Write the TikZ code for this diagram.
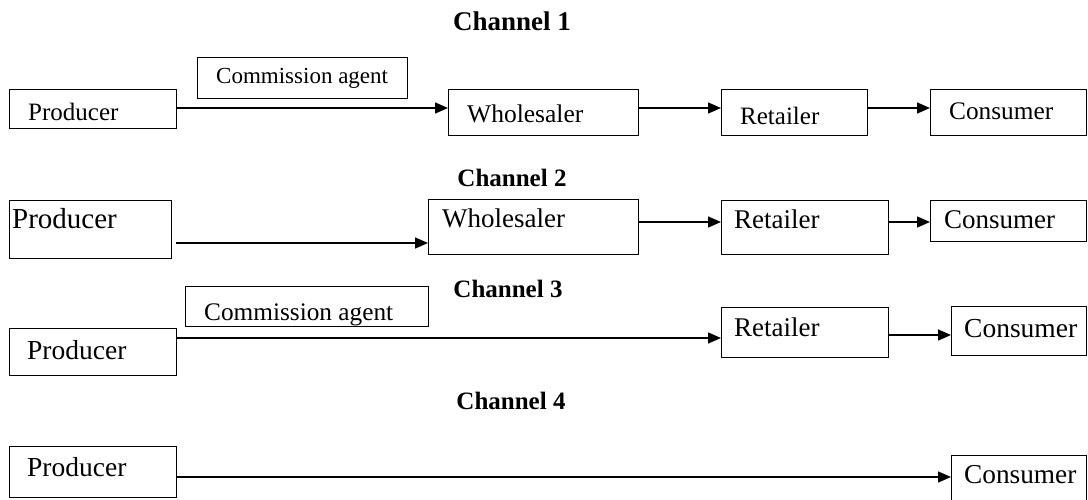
\documentclass[tikz,border=0pt]{standalone}
\usepackage{fontspec}
\setmainfont{Liberation Serif}
\usetikzlibrary{arrows.meta}
\tikzset{
  boxst/.style={draw, line width=1.3pt, inner sep=0pt, anchor=north west},
  txt/.style={anchor=base west, inner sep=0pt},
  ttl/.style={anchor=base, inner sep=0pt},
  arr/.style={line width=1.5pt, -{Triangle[length=13pt,width=11pt]}}
}
% name, x1, y1, x2, y2, text, tx, ty, size
\newcommand{\cbox}[9]{%
  \node[boxst, minimum width={#4pt-#2pt}, minimum height={#5pt-#3pt}] (#1) at (#2,#3) {};
  \node[txt, font=\fontsize{#9}{#9}\selectfont] (#1t) at (#7,#8) {#6};
}
\begin{document}
\begin{tikzpicture}[x=1pt,y=-1pt]
\clip (0,0) rectangle (1088,500);
\fill[white] (0,0) rectangle (1088,500);

% titles
\node[ttl, font=\fontsize{27}{27}\selectfont\bfseries] (t1) at (512,31) {Channel 1};
\node[ttl, font=\fontsize{25}{25}\selectfont\bfseries] (t2) at (512,186) {Channel 2};
\node[ttl, font=\fontsize{25}{25}\selectfont\bfseries] (t3) at (508,297) {Channel 3};
\node[ttl, font=\fontsize{25}{25}\selectfont\bfseries] (t4) at (511,409) {Channel 4};

% row 1
\cbox{p1}{9}{89}{176}{128}{Producer}{28}{121}{25}
\cbox{ca1}{197}{57}{407}{98}{Commission agent}{216}{84}{23}
\cbox{w1}{448}{89}{638}{135}{Wholesaler}{467}{123}{25.5}
\cbox{r1}{721}{89}{867}{135}{Retailer}{740}{125}{25}
\cbox{c1}{930}{89}{1086}{135}{Consumer}{949}{120}{25.3}
\coordinate (y1) at (0,108);
\draw[arr] (p1.east |- y1) -- (w1.west |- y1);
\draw[arr] (w1.east |- y1) -- (r1.west |- y1);
\draw[arr] (r1.east |- y1) -- (c1.west |- y1);

% row 2
\cbox{p2}{9}{200}{171}{258}{Producer}{12}{229}{29}
\cbox{w2}{428}{199}{638}{254}{Wholesaler}{442}{228}{27}
\cbox{r2}{721}{200}{888}{254}{Retailer}{734}{229}{27}
\cbox{c2}{930}{200}{1086}{241}{Consumer}{944}{229}{27}
\coordinate (y2a) at (0,243);
\coordinate (y2b) at (0,222);
\draw[arr] ([xshift=4pt]p2.east |- y2a) -- (w2.west |- y2a);
\draw[arr] (w2.east |- y2b) -- (r2.west |- y2b);
\draw[arr] (r2.east |- y2b) -- (c2.west |- y2b);

% row 3
\node[boxst, minimum width=243pt, minimum height=40pt] (ca3) at (185,286) {};
\begin{scope}
  \clip (185,286) rectangle (428,326);
  \node[txt, font=\fontsize{25.3}{25.3}\selectfont] (ca3t) at (204,320) {Commission agent};
\end{scope}
\cbox{p3}{9}{328}{176}{375}{Producer}{27}{359}{27.5}
\cbox{r3}{721}{307}{888}{357}{Retailer}{734}{336}{27}
\cbox{c3}{951}{306}{1086}{355}{Consumer}{964}{337}{27.5}
\coordinate (y3a) at (0,338);
\coordinate (y3b) at (0,335);
\draw[arr] (p3.east |- y3a) -- (r3.west |- y3a);
\draw[arr] (r3.east |- y3b) -- (c3.west |- y3b);

% row 4
\cbox{p4}{9}{446}{176}{497}{Producer}{27}{476}{27.5}
\cbox{c4}{951}{455}{1086}{515}{Consumer}{964}{483}{27.3}
\coordinate (y4) at (0,477);
\draw[arr] (p4.east |- y4) -- (c4.west |- y4);
\end{tikzpicture}
\end{document}
